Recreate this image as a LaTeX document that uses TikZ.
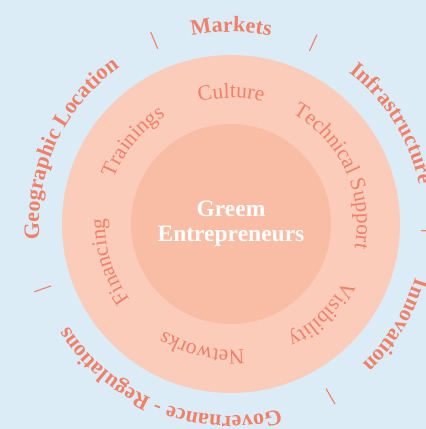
\documentclass[tikz,border=0pt]{standalone}
\usepackage{fontspec}
\setmainfont{Liberation Serif}
\usepackage{xcolor}
\usetikzlibrary{decorations.text}

\definecolor{skyback}{RGB}{219,236,246}
\definecolor{ringpeach}{RGB}{252,204,187}
\definecolor{corepeach}{RGB}{249,188,165}
\definecolor{salmon}{RGB}{240,128,104}

\newcommand{\outerfont}{\fontsize{22}{26}\selectfont\bfseries}
\newcommand{\innerfont}{\fontsize{21.5}{25}\selectfont}

\begin{document}
\begin{tikzpicture}[x=1pt,y=1pt,
  outerlabel/.style={decorate, decoration={text along path, text align=center, text color=salmon}},
  innerlabel/.style={decorate, decoration={text along path, text align=center, text color=salmon}},
  ringtick/.style={draw=salmon, line width=1.1pt}]
\useasboundingbox (0,0) rectangle (426,429);
\fill[skyback] (0,0) rectangle (426,429);

\coordinate (c) at (231,205);

\fill[ringpeach] (c) circle[radius=169];
\fill[corepeach] (c) circle[radius=100];

\node[text=white, font=\fontsize{23.5}{25}\selectfont\bfseries, align=center] (core) at (c) {Greem\\Entrepreneurs};

\draw[ringtick] ([shift={(112.7:190)}]c) -- ([shift={(112.7:208)}]c);
\draw[ringtick] ([shift={(65.6:190)}]c) -- ([shift={(65.6:208)}]c);
\draw[ringtick] ([shift={(-2:190)}]c) -- ([shift={(-2:208)}]c);
\draw[ringtick] ([shift={(-60:190)}]c) -- ([shift={(-60:208)}]c);
\draw[ringtick] ([shift={(199:190)}]c) -- ([shift={(199:208)}]c);

\path[outerlabel, decoration={text={|\outerfont|Markets}}] ([shift={(150:192)}]c) arc[start angle=150, end angle=30, radius=192];
\path[outerlabel, decoration={text={|\outerfont|Infrastructure}}] ([shift={(92:192)}]c) arc[start angle=92, end angle=-28, radius=192];
\path[outerlabel, decoration={text={|\outerfont|Innovation}}] ([shift={(28.5:192)}]c) arc[start angle=28.5, end angle=-91.5, radius=192];
\path[outerlabel, decoration={text={|\outerfont|Governance - Regulations}}] ([shift={(-51.5:192)}]c) arc[start angle=-51.5, end angle=-171.5, radius=192];
\path[outerlabel, decoration={text={|\outerfont|Geographic Location}}] ([shift={(215:192)}]c) arc[start angle=215, end angle=95, radius=192];

\path[innerlabel, decoration={text={|\innerfont|Culture}}] ([shift={(150:126)}]c) arc[start angle=150, end angle=30, radius=126];
\path[innerlabel, decoration={text={|\innerfont|Technical Support}}] ([shift={(85:126)}]c) arc[start angle=85, end angle=-35, radius=126];
\path[innerlabel, decoration={text={|\innerfont|Visibility}}] ([shift={(15:126)}]c) arc[start angle=15, end angle=-105, radius=126];
\path[innerlabel, decoration={text={|\innerfont|Networks}}] ([shift={(-43:126)}]c) arc[start angle=-43, end angle=-163, radius=126];
\path[innerlabel, decoration={text={|\innerfont|Financing}}] ([shift={(257:126)}]c) arc[start angle=257, end angle=137, radius=126];
\path[innerlabel, decoration={text={|\innerfont|Trainings}}] ([shift={(200:126)}]c) arc[start angle=200, end angle=80, radius=126];
\end{tikzpicture}
\end{document}
